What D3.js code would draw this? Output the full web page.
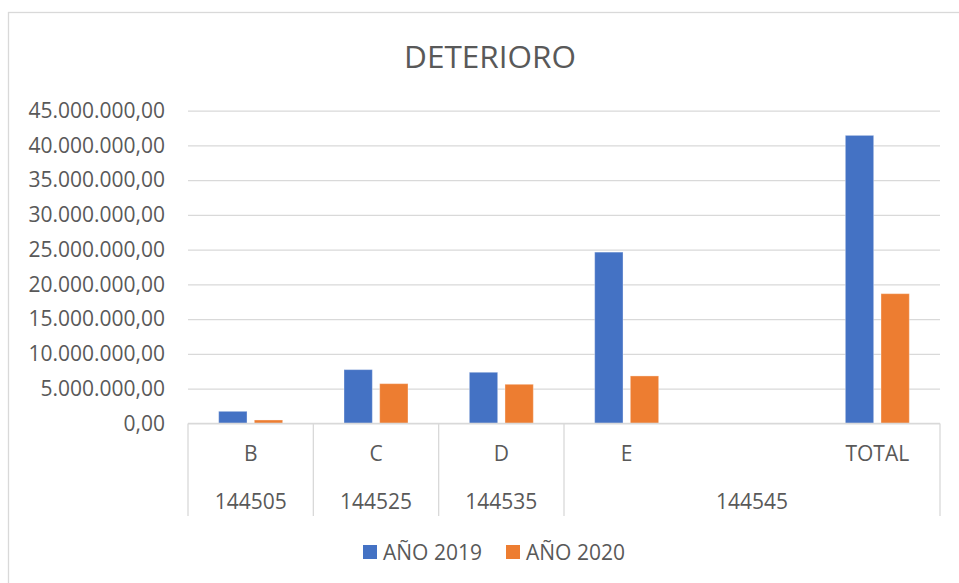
<!DOCTYPE html>
<html>
<head>
<meta charset="utf-8">
<script src="https://cdn.jsdelivr.net/npm/d3@7"></script>
<style>
  body { margin: 0; background: #ffffff; }
  svg text { font-family: "Open Sans", sans-serif; fill: #595959; }
</style>
</head>
<body>
<svg id="chart" width="959" height="583"></svg>
<script>
// data
var categories = ["B", "C", "D", "E", "", "TOTAL"];
var groups = ["144505", "144525", "144535", "144545", "144545", "144545"];
var series = ["AÑO 2019", "AÑO 2020"];
var values2019 = [1740000, 7740000, 7360000, 24650000, null, 41450000];
var values2020 = [490000, 5720000, 5630000, 6830000, null, 18670000];
var yTicks = [0, 5000000, 10000000, 15000000, 20000000, 25000000, 30000000, 35000000, 40000000, 45000000];

var colors = ["#4472C4", "#ED7D31"];
var fontSize = "21px";

var svg = d3.select("#chart");
var margin = { top: 110.7, left: 188 };
var width = 940 - margin.left;
var height = 423.4 - margin.top;

// chart border
svg.append("rect")
  .attr("x", 8.5).attr("y", 12.5)
  .attr("width", 980).attr("height", 600)
  .style("fill", "none").style("stroke", "#d9d9d9").style("stroke-width", 1.3);

// title
svg.append("text")
  .attr("x", 490).attr("y", 68)
  .attr("text-anchor", "middle")
  .style("font-size", "31.5px")
  .text("DETERIORO");

var g = svg.append("g").attr("transform", "translate(" + margin.left + "," + margin.top + ")");

var x = d3.scaleBand().domain(d3.range(categories.length)).range([0, width]);
var xInner = d3.scaleBand().domain(series).range([x.bandwidth() / 2 - 32, x.bandwidth() / 2 + 32]).paddingInner(0.205);
var y = d3.scaleLinear().domain([0, 45000000]).range([height, 0]);

var es = d3.formatLocale({ decimal: ",", thousands: ".", grouping: [3], currency: ["", ""] });

// y axis + gridlines
var yAxis = d3.axisLeft(y).tickValues(yTicks).tickSize(-width).tickPadding(23).tickFormat(es.format(",.2f"));
g.append("g").call(yAxis)
  .call(function (a) {
    a.select(".domain").remove();
    a.selectAll(".tick line").style("stroke", "#d9d9d9").style("stroke-width", 1.3);
    a.selectAll(".tick text").style("font-size", fontSize).style("fill", "#595959").style("font-family", "Open Sans");
  });

// bars
var allValues = [values2019, values2020];
series.forEach(function (s, si) {
  g.selectAll(".bar-" + si)
    .data(allValues[si].map(function (v, i) { return { i: i, v: v }; }).filter(function (d) { return d.v !== null; }))
    .enter().append("rect")
    .attr("class", "bar-" + si)
    .attr("x", function (d) { return x(d.i) + xInner(s); })
    .attr("width", xInner.bandwidth())
    .attr("y", function (d) { return y(d.v); })
    .attr("height", function (d) { return height - y(d.v); })
    .style("fill", colors[si])
    .style("stroke", "#ffffff").style("stroke-opacity", 0.35).style("stroke-width", 1);
});

// category axis
g.append("line")
  .attr("x1", 0).attr("x2", width).attr("y1", height).attr("y2", height)
  .style("stroke", "#d9d9d9").style("stroke-width", 1.3);

var xAxis = d3.axisBottom(x).tickSize(0).tickPadding(23).tickFormat(function (i) { return categories[i]; });
g.append("g").attr("transform", "translate(0," + height + ")").call(xAxis)
  .call(function (a) {
    a.select(".domain").remove();
    a.selectAll(".tick text").style("font-size", fontSize).style("fill", "#595959").style("font-family", "Open Sans");
  });

// group row
var groupSpans = [];
groups.forEach(function (name, i) {
  var last = groupSpans[groupSpans.length - 1];
  if (last && last.name === name) last.end = i;
  else groupSpans.push({ name: name, start: i, end: i });
});

g.selectAll(".group-label")
  .data(groupSpans).enter().append("text")
  .attr("class", "group-label")
  .attr("x", function (d) { return (x(d.start) + x(d.end) + x.bandwidth()) / 2; })
  .attr("y", height + 86)
  .attr("text-anchor", "middle")
  .style("font-size", fontSize)
  .text(function (d) { return d.name; });

var dividers = groupSpans.map(function (d) { return x(d.start); }).concat([width]);
g.selectAll(".divider")
  .data(dividers).enter().append("line")
  .attr("class", "divider")
  .attr("x1", function (d) { return d; }).attr("x2", function (d) { return d; })
  .attr("y1", height).attr("y2", height + 92.5)
  .style("stroke", "#d9d9d9").style("stroke-width", 1.3);

// legend
var legend = svg.append("g").attr("transform", "translate(363,545)");
var legendX = [0, 143];
series.forEach(function (s, si) {
  var item = legend.append("g").attr("transform", "translate(" + legendX[si] + ",0)");
  item.append("rect").attr("width", 14).attr("height", 14).style("fill", colors[si]);
  item.append("text").attr("x", 20).attr("y", 14.5).style("font-size", fontSize).text(s);
});
</script>
</body>
</html>
